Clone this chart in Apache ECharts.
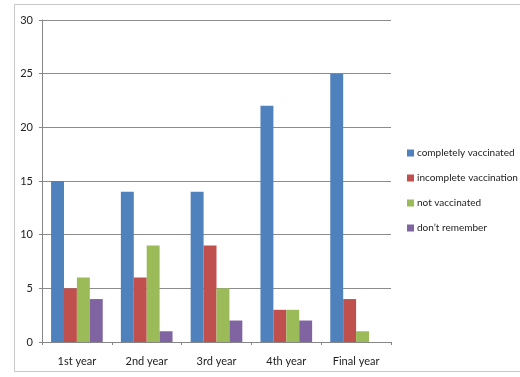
<!DOCTYPE html>
<html>
<head>
<meta charset="utf-8">
<style>
  html, body { margin: 0; padding: 0; background: #fff; }
  #chart { width: 520px; height: 377px; }
</style>
<script src="https://cdn.jsdelivr.net/npm/echarts@6/dist/echarts.min.js"></script>
</head>
<body>
<div id="chart"></div>
<script>
// Vaccination status by year of study
const categories = ['1st year', '2nd year', '3rd year', '4th year', 'Final year'];
const seriesNames = ['completely vaccinated', 'incomplete vaccination', 'not vaccinated', 'don\u2019t remember'];
const completelyVaccinated = [15, 14, 14, 22, 25];
const incompleteVaccination = [5, 6, 9, 3, 4];
const notVaccinated = [6, 9, 5, 3, 1];
const dontRemember = [4, 1, 2, 2, 0];
const yTicks = { min: 0, max: 30, interval: 5 };

const colors = ['#4F81BD', '#C0504D', '#9BBB59', '#8064A2'];
const values = [completelyVaccinated, incompleteVaccination, notVaccinated, dontRemember];
const font = 'Lato, "Liberation Sans", sans-serif';

const chart = echarts.init(document.getElementById('chart'), null, { renderer: 'canvas' });

chart.setOption({
  animation: false,
  backgroundColor: '#ffffff',
  color: colors,
  graphic: [{
    type: 'rect',
    shape: { x: 14.5, y: 4.5, width: 510, height: 367 },
    style: { fill: 'none', stroke: '#c8c8c8', lineWidth: 1 },
    silent: true
  }],
  grid: { left: 42, right: 129, top: 20, bottom: 35, containLabel: false },
  legend: {
    orient: 'vertical',
    left: 402,
    top: 143,
    itemWidth: 7,
    itemHeight: 7,
    itemGap: 15,
    icon: 'rect',
    textStyle: { fontFamily: font, fontSize: 10, color: '#222', padding: [0, 0, 0, -2] },
    data: seriesNames
  },
  xAxis: {
    type: 'category',
    data: categories,
    axisLine: { lineStyle: { color: '#868686', width: 1 } },
    axisTick: { show: true, length: 3, alignWithLabel: false, lineStyle: { color: '#868686' } },
    axisLabel: { fontFamily: font, fontSize: 11, color: '#222', margin: 14 },
    splitLine: { show: false }
  },
  yAxis: {
    type: 'value',
    min: yTicks.min,
    max: yTicks.max,
    interval: yTicks.interval,
    axisLine: { show: true, lineStyle: { color: '#868686', width: 1 } },
    axisTick: { show: true, length: 3, lineStyle: { color: '#868686' } },
    axisLabel: { fontFamily: font, fontSize: 11, color: '#222', margin: 9 },
    splitLine: { show: true, lineStyle: { color: '#8c8c8c', width: 1 } }
  },
  series: seriesNames.map((name, i) => ({
    name: name,
    type: 'bar',
    data: values[i],
    barGap: '0%',
    barCategoryGap: '26%',
    itemStyle: { color: colors[i] }
  }))
});
</script>
</body>
</html>
